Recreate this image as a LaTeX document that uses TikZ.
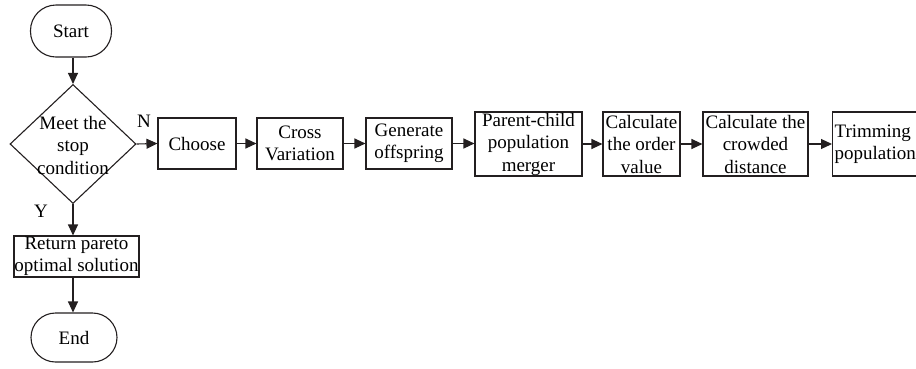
\documentclass[tikz,border=0pt]{standalone}
\usepackage{fontspec}
\setmainfont{Liberation Serif}
\usetikzlibrary{arrows.meta,shapes.geometric}
\begin{document}
\begin{tikzpicture}[x=1pt,y=-1pt,
  line width=1.1pt, draw={rgb,255:red,35;green,31;blue,32},
  txt/.style={font=\fontsize{19}{22.5}\selectfont},
  box/.style={draw, rectangle, inner sep=0pt, align=center, txt},
  lbl/.style={inner sep=0pt, align=center, txt},
  arr/.style={-{Triangle[length=11pt,width=10pt]}}
]
\useasboundingbox (0,0) rectangle (916,368);
\clip (0,0) rectangle (916,368);
\node[draw, rounded corners=25.5pt, minimum width=81pt, minimum height=52pt, inner sep=0pt, txt] (start) at (71,31) {Start};
\node[draw, diamond, inner sep=0pt, minimum width=126pt, minimum height=119pt, aspect=1.06] (cond) at (73,144) {};
\node[lbl] (condt) at (73,145) {Meet the\\stop\\condition};
\node[box, minimum width=78pt, minimum height=51pt] (choose) at (197,143.5) {Choose};
\node[box, minimum width=86pt, minimum height=51pt] (cross) at (300,143.5) {Cross\\Variation};
\node[box, minimum width=86pt, minimum height=51pt] (gen) at (409,143.5) {Generate\\offspring};
\node[box, minimum width=107pt, minimum height=64pt] (merge) at (528.5,144) {Parent-child\\population\\merger};
\node[box, minimum width=77pt, minimum height=64pt] (order) at (641.5,144) {Calculate\\the order\\value};
\node[box, minimum width=105pt, minimum height=64pt] (crowd) at (755.5,144) {Calculate the\\crowded\\distance};
\node[box, anchor=west, text width=92pt, inner xsep=2pt, align=left, minimum height=64pt] (trim) at (832,144) {Trimming\\population};
\node[box, minimum width=125pt, minimum height=41pt] (ret) at (76.5,256.5) {Return pareto\\optimal solution};
\node[draw, rounded corners=24.5pt, minimum width=86pt, minimum height=49pt, inner sep=0pt, txt] (end) at (74,337.5) {End};
\node[lbl] (N) at (144,121) {N};
\node[lbl] (Y) at (41,211) {Y};
\draw[arr] (start.south -| cond.north) -- (cond.north);
\draw[arr] (cond.east) -- (choose.west);
\draw[arr] (choose) -- (cross);
\draw[arr] (cross) -- (gen);
\draw[arr] (gen.east) -- (merge.west |- gen.east);
\draw[arr] (merge) -- (order);
\draw[arr] (order) -- (crowd);
\draw[arr] (crowd) -- (trim);
\draw[arr] (cond.south) -- (cond.south |- ret.north);
\draw[arr] (ret.south -| cond.south) -- (end.north -| cond.south);
\end{tikzpicture}
\end{document}
